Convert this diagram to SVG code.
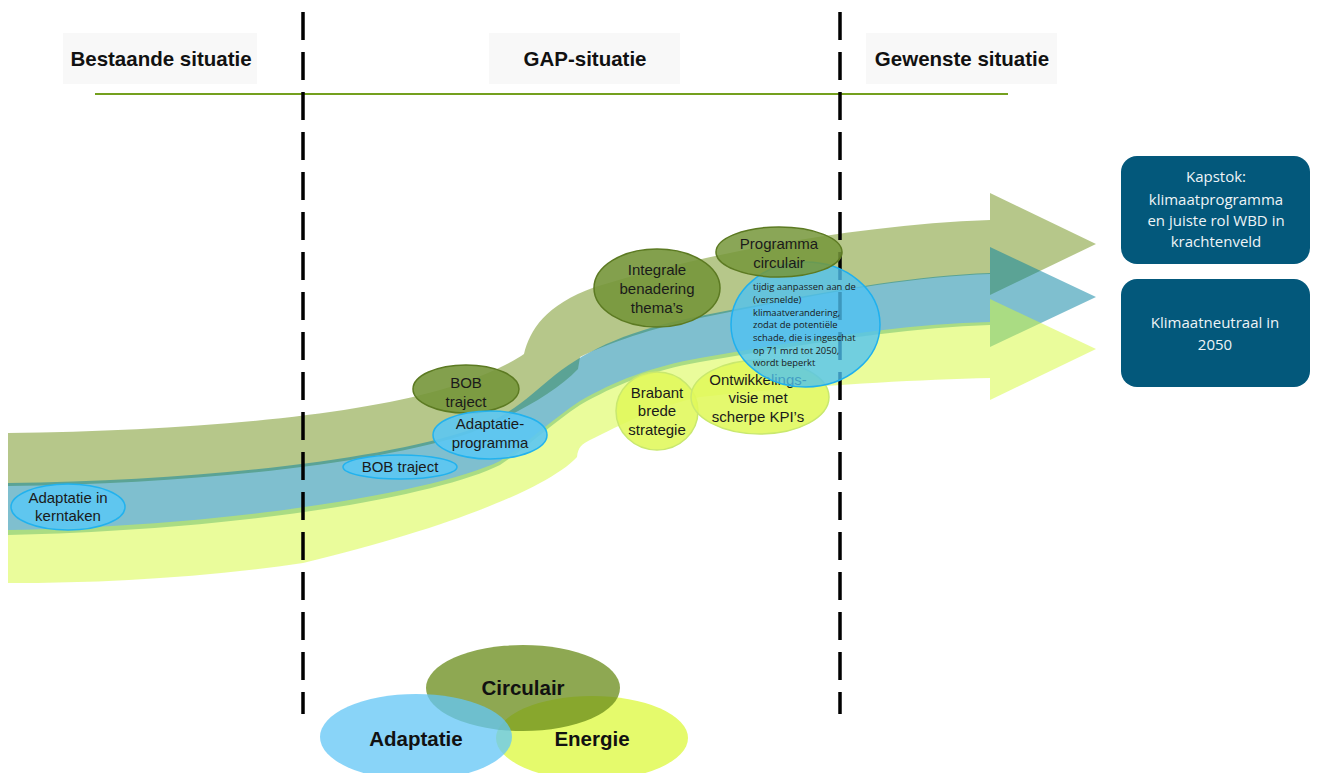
<svg xmlns="http://www.w3.org/2000/svg" width="1319" height="773" viewBox="0 0 1319 773">
<style>
.hdr{font-family:"Liberation Sans",Arial,sans-serif;font-weight:bold;font-size:20.5px;fill:#111;text-anchor:middle}
.hbg{fill:#f8f8f8}
.lbl{font-family:"Liberation Sans",Arial,sans-serif;font-size:15px;fill:#1a1a1a;text-anchor:middle}
.olive{fill:#76963a;fill-opacity:0.9;stroke:#5c7a22;stroke-width:1.5}
.blue{fill:#5cc6f2;fill-opacity:0.9;stroke:#22b2ee;stroke-width:1.5}
.yel{fill:#e0f85a;fill-opacity:0.88;stroke:#c9e86e;stroke-width:1.5}
.box{fill:#03587b}
.btxt{font-family:"Open Sans","Noto Sans",sans-serif;font-size:15px;fill:#eef4f7;text-anchor:middle}
.small{font-family:"Open Sans","Noto Sans",sans-serif;font-size:9.4px;fill:#1a1a1a}
.venn{font-family:"Liberation Sans",Arial,sans-serif;font-weight:bold;font-size:20.5px;fill:#111;text-anchor:middle}
.dash{stroke:#000;stroke-width:3.5;stroke-dasharray:28 12;fill:none}
</style>

<!-- header -->
<g id="header">
  <rect class="hbg" x="63" y="33" width="194" height="51"/>
  <rect class="hbg" x="489" y="33" width="191" height="51"/>
  <rect class="hbg" x="866" y="33" width="191" height="51"/>
  <text class="hdr" x="161" y="66">Bestaande situatie</text>
  <text class="hdr" x="585" y="66">GAP-situatie</text>
  <text class="hdr" x="962" y="66">Gewenste situatie</text>
  <line x1="95" y1="94" x2="1008" y2="94" stroke="#74a01e" stroke-width="2"/>
</g>

<!-- bands (curved arrows) -->
<g id="bands">
  <path id="band-green" fill="#6d8f15" fill-opacity="0.5"
    d="M8,433 C180,431 340,418 440,390 C480,378 510,364 524,354 C530,330 545,305 595,287 C700,255 850,225 990,220 L990,193 L1096,244 L990,295 L990,274 C900,277 800,298 700,318 C640,331 600,347 580,357 L578,369 C560,388 530,406 500,420 L470,433 C380,463 200,484 8,486 Z"/>
  <path id="band-blue" fill="#007f9f" fill-opacity="0.5"
    d="M8,483 C200,481 380,460 470,430 C510,417 530,395 555,375 C590,348 630,330 700,316 C800,297 900,276 990,273 L990,247 L1096,297 L990,347 L990,325 C900,328 800,345 700,362 C650,371 615,385 580,405 C550,425 530,445 500,465 C440,495 250,530 8,535 Z"/>
  <path id="band-yellow" fill="#d5f937" fill-opacity="0.5"
    d="M8,530 C250,525 440,490 500,461 C530,441 550,421 580,401 C615,381 650,367 700,358 C800,341 900,324 990,322 L990,299 L1096,349 L990,400 L990,378 C900,380 780,388 700,397 C660,405 620,425 590,440 C582,444 578,447 577,457 C570,465 555,475 540,483 C500,505 420,535 303,563 C200,578 100,583 8,583 Z"/>
</g>

<!-- result boxes -->
<g id="node-kapstok">
  <rect class="box" x="1121" y="156" width="189" height="108" rx="16"/>
  <text class="btxt" x="1216" y="182">Kapstok:</text>
  <text class="btxt" x="1216" y="205">klimaatprogramma</text>
  <text class="btxt" x="1216" y="226">en juiste rol WBD in</text>
  <text class="btxt" x="1216" y="247">krachtenveld</text>
</g>
<g id="node-klimaatneutraal">
  <rect class="box" x="1121" y="279" width="189" height="108" rx="16"/>
  <text class="btxt" x="1215" y="328">Klimaatneutraal in</text>
  <text class="btxt" x="1215" y="350">2050</text>
</g>

<!-- olive and yellow nodes -->
<g id="node-bob-olive">
  <ellipse class="olive" cx="466" cy="389" rx="53" ry="24"/>
  <text class="lbl" x="466" y="388">BOB</text>
  <text class="lbl" x="466" y="407">traject</text>
</g>
<g id="node-integrale">
  <ellipse class="olive" cx="657" cy="288" rx="63" ry="39"/>
  <text class="lbl" x="657" y="275">Integrale</text>
  <text class="lbl" x="657" y="294">benadering</text>
  <text class="lbl" x="657" y="313">thema’s</text>
</g>
<g id="node-brabant">
  <ellipse class="yel" cx="657" cy="411" rx="41" ry="39"/>
  <text class="lbl" x="657" y="398">Brabant</text>
  <text class="lbl" x="657" y="416">brede</text>
  <text class="lbl" x="657" y="435">strategie</text>
</g>
<g id="node-ontwikkelingsvisie">
  <ellipse class="yel" cx="760" cy="397" rx="69" ry="37"/>
  <text class="lbl" x="758" y="385">Ontwikkelings-</text>
  <text class="lbl" x="758" y="403">visie met</text>
  <text class="lbl" x="758" y="422">scherpe KPI’s</text>
</g>

<!-- dashed dividers -->
<g id="dividers">
  <line class="dash" x1="303" y1="12" x2="303" y2="714"/>
  <line class="dash" x1="840" y1="12" x2="840" y2="714"/>
</g>

<!-- blue nodes -->
<g id="node-adaptatie-kerntaken">
  <ellipse class="blue" cx="68" cy="507" rx="57" ry="23"/>
  <text class="lbl" x="68" y="503">Adaptatie in</text>
  <text class="lbl" x="68" y="521">kerntaken</text>
</g>
<g id="node-bob-blue">
  <ellipse class="blue" cx="400" cy="467" rx="57" ry="12"/>
  <text class="lbl" x="400" y="472">BOB traject</text>
</g>
<g id="node-adaptatieprogramma">
  <ellipse class="blue" cx="490" cy="435" rx="57" ry="24"/>
  <text class="lbl" x="490" y="429">Adaptatie-</text>
  <text class="lbl" x="490" y="448">programma</text>
</g>
<g id="node-tijdig">
  <ellipse cx="805.5" cy="324.5" rx="74.5" ry="62.5" fill="#4ec2f2" fill-opacity="0.78" stroke="#1fb0ee" stroke-width="1.5"/>
  <text class="small" x="753" y="290">tijdig aanpassen aan de</text>
  <text class="small" x="753" y="303">(versnelde)</text>
  <text class="small" x="753" y="315.5">klimaatverandering,</text>
  <text class="small" x="753" y="328">zodat de potentiële</text>
  <text class="small" x="753" y="341">schade, die is ingeschat</text>
  <text class="small" x="753" y="353.5">op 71 mrd tot 2050,</text>
  <text class="small" x="753" y="366">wordt beperkt</text>
</g>
<g id="node-programma-circulair">
  <ellipse cx="779" cy="252" rx="63" ry="25" fill="#76963a" fill-opacity="0.85" stroke="#5c7a22" stroke-width="1.5"/>
  <text class="lbl" x="779" y="249">Programma</text>
  <text class="lbl" x="779" y="268">circulair</text>
</g>

<!-- Venn -->
<g id="node-energie">
  <ellipse cx="592" cy="738" rx="96" ry="42" fill="#e5fa6c"/>
  <text class="venn" x="592" y="746">Energie</text>
</g>
<g id="node-circulair">
  <ellipse cx="523" cy="688" rx="97" ry="43" fill="#688b18" fill-opacity="0.75"/>
  <text class="venn" x="523" y="695">Circulair</text>
</g>
<g id="node-adaptatie">
  <ellipse cx="416" cy="737" rx="96" ry="43" fill="#64c7f6" fill-opacity="0.76"/>
  <text class="venn" x="416" y="746">Adaptatie</text>
</g>
</svg>
